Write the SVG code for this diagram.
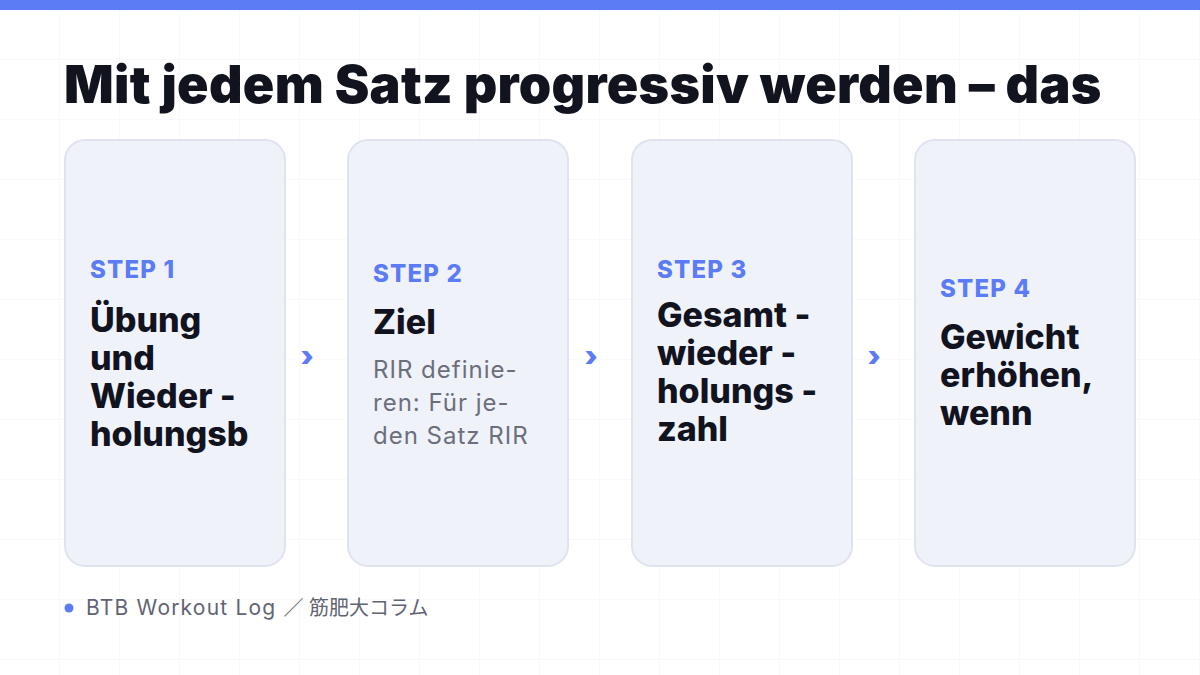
<svg xmlns="http://www.w3.org/2000/svg" width="1200" height="675" viewBox="0 0 1200 675">
<defs>
<pattern id="grid" width="60" height="60" patternUnits="userSpaceOnUse">
<path d="M60 0 V60 M0 60 H60" fill="none" stroke="#f1f2f6" stroke-width="1"/>
</pattern>
<style>
.card{fill:#f0f2fa;stroke:#dfe3ef;stroke-width:2}
.step{font-family:Inter,"Liberation Sans",sans-serif;font-weight:800;font-size:24px;letter-spacing:1.2px;fill:#5b7cf5}
.head{font-family:Inter,"Liberation Sans",sans-serif;font-weight:800;font-size:34px;fill:#11131f}
.body{font-family:Inter,"Liberation Sans",sans-serif;font-weight:400;font-size:24px;letter-spacing:1px;fill:#6b6f7c}
.arr{font-family:Inter,"Liberation Sans",sans-serif;font-weight:900;font-size:28px;fill:#5b7cf5;text-anchor:middle}
</style>
</defs>
<rect width="1200" height="675" fill="#ffffff"/>
<rect width="1200" height="675" fill="url(#grid)"/>
<rect x="0" y="0" width="1200" height="10" fill="#5b7cf5"/>
<text x="64" y="103" font-family="Inter,'Liberation Sans',sans-serif" font-weight="900" font-size="52" letter-spacing="0.3" fill="#11131f">Mit jedem Satz progressiv werden – das</text>
<g id="connectors">
<text class="arr" x="307" y="366">›</text>
<text class="arr" x="591" y="366">›</text>
<text class="arr" x="874" y="366">›</text>
</g>
<g id="step1">
<rect class="card" x="65" y="140" width="220" height="426" rx="20"/>
<text class="step" x="90" y="278">STEP 1</text>
<text class="head" x="90" y="332">Übung</text>
<text class="head" x="90" y="370">und</text>
<text class="head" x="90" y="408">Wieder -</text>
<text class="head" x="90" y="446">holungsb</text>
</g>
<g id="step2">
<rect class="card" x="348" y="140" width="220" height="426" rx="20"/>
<text class="step" x="373" y="282">STEP 2</text>
<text class="head" x="373" y="334">Ziel</text>
<text class="body" x="373" y="378">RIR definie-</text>
<text class="body" x="373" y="411">ren: Für je-</text>
<text class="body" x="373" y="444">den Satz RIR</text>
</g>
<g id="step3">
<rect class="card" x="632" y="140" width="220" height="426" rx="20"/>
<text class="step" x="657" y="278">STEP 3</text>
<text class="head" x="657" y="327">Gesamt -</text>
<text class="head" x="657" y="365">wieder -</text>
<text class="head" x="657" y="403">holungs -</text>
<text class="head" x="657" y="441">zahl</text>
</g>
<g id="step4">
<rect class="card" x="915" y="140" width="220" height="426" rx="20"/>
<text class="step" x="940" y="297">STEP 4</text>
<text class="head" x="940" y="349">Gewicht</text>
<text class="head" x="940" y="387">erhöhen,</text>
<text class="head" x="940" y="425">wenn</text>
</g>
<g id="footer">
<circle cx="69" cy="608" r="4.5" fill="#5b7cf5"/>
<text x="86" y="615" font-family="Inter,'Noto Sans CJK JP',sans-serif" font-size="21" fill="#5f6472"><tspan letter-spacing="1.2">BTB Workout Log </tspan><tspan font-size="20">／ 筋肥大コラム</tspan></text>
</g>
</svg>
